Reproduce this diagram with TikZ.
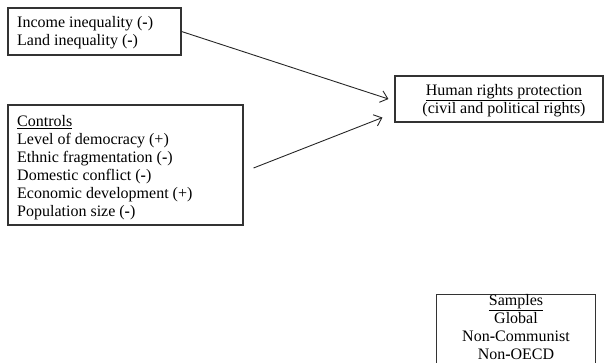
\documentclass[tikz,border=0pt]{standalone}
\usepackage{fontspec}
\setmainfont{Liberation Serif}
\usetikzlibrary{arrows.meta}
\newcommand{\mh}{\textbf{-}}
\tikzset{
  box/.style={draw=black!80, line width=1.1pt, inner sep=0pt},
  txt/.style={font=\fontsize{16}{18}\selectfont, inner sep=0pt},
  conn/.style={draw=black!85, line width=0.9pt, -{Straight Barb[length=7pt,width=12pt]}}
}
\begin{document}
\begin{tikzpicture}[x=1pt,y=-1pt]
\path[use as bounding box] (0,0) rectangle (605,362);
\clip (0,0) rectangle (605,362);
% boxes
\node[box, minimum width=173pt, minimum height=47pt] (b1) at (94.5,31.5) {};
\node[txt, anchor=west, align=left] (b1t) at (17,33) {Income inequality (\mh)\\Land inequality (\mh)};
\node[box, minimum width=235pt, minimum height=120pt] (ctrl) at (125.5,165) {};
\node[txt, anchor=west, align=left] (ctrlt) at (17,168) {\underline{Controls}\\Level of democracy (+)\\Ethnic fragmentation (\mh)\\Domestic conflict (\mh)\\Economic development (+)\\Population size (\mh)};
\node[box, minimum width=208pt, minimum height=46pt] (hr) at (499,99) {};
\node[txt, align=center] (hrt) at (504,101) {\underline{Human rights protection}\\(civil and political rights)};
\node[box, minimum width=159pt, minimum height=120pt, anchor=north west] (smp) at (436,294) {};
\node[txt, align=center, anchor=north] (smpt) at (516,294.5) {\underline{Samples}\\Global\\Non\mh Communist\\Non\mh OECD};
% connectors
\draw[conn] (b1.east) -- ([xshift=-6pt]hr.west);
\draw[conn] ([xshift=10pt,yshift=-3pt]ctrl.east) -- ([xshift=-12pt,yshift=5pt]hr.south west);
\end{tikzpicture}
\end{document}
